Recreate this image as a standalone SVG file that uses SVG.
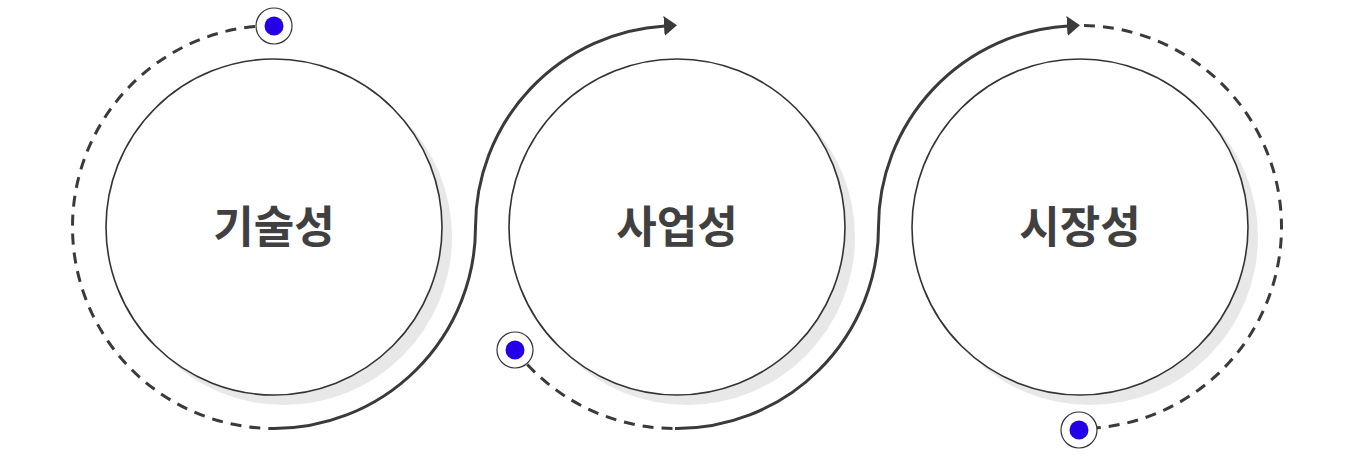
<svg xmlns="http://www.w3.org/2000/svg" width="1354" height="456" viewBox="0 0 1354 456">
<style>
.shadow{fill:#e8e8e8;stroke:none}
.main{fill:#ffffff;stroke:#333333;stroke-width:1.6}
.label{font-family:"Noto Sans CJK KR","Noto Sans",sans-serif;font-weight:700;font-size:44px;fill:#404040;text-anchor:middle}
.solid{fill:none;stroke:#3a3a3a;stroke-width:3}
.dash{fill:none;stroke:#3a3a3a;stroke-width:3;stroke-dasharray:11 8}
.ring{fill:#ffffff;stroke:#333333;stroke-width:1.2}
.dot{fill:#2400e8}
</style>
<defs>
<marker id="arrow" markerUnits="userSpaceOnUse" markerWidth="14" markerHeight="20" refX="1" refY="10" orient="auto">
<polygon points="0,0 13,10 0,20" fill="#3a3a3a"/>
</marker>
</defs>
<g id="node1">
<circle class="shadow" cx="284" cy="237" r="168"/>
<circle class="main" cx="274" cy="227" r="168"/>
<text class="label" x="274" y="243">기술성</text>
</g>
<g id="node2">
<circle class="shadow" cx="687" cy="237" r="168"/>
<circle class="main" cx="677" cy="227" r="168"/>
<text class="label" x="677" y="243">사업성</text>
</g>
<g id="node3">
<circle class="shadow" cx="1090" cy="237" r="168"/>
<circle class="main" cx="1080" cy="227" r="168"/>
<text class="label" x="1080" y="243">시장성</text>
</g>
<g id="connectors">
<path class="dash" d="M274 25.5 A201.5 201.5 0 0 0 72.5 227 A201.5 201.5 0 0 0 274 428.5"/>
<path class="solid" d="M272 428.5 A201.5 201.5 0 0 0 475.5 227 A201.5 201.5 0 0 1 665 25.9" marker-end="url(#arrow)"/>
<path class="dash" d="M515 350 A201.5 201.5 0 0 0 677 428.5"/>
<path class="solid" d="M675 428.5 A201.5 201.5 0 0 0 878.5 227 A201.5 201.5 0 0 1 1068 25.9" marker-end="url(#arrow)"/>
<path class="dash" d="M1084 25.5 A201.5 201.5 0 0 1 1281.5 227 A201.5 201.5 0 0 1 1080 428.5"/>
</g>
<g id="dot1">
<circle class="ring" cx="274" cy="26" r="18"/>
<circle class="dot" cx="274" cy="26" r="9.5"/>
</g>
<g id="dot2">
<circle class="ring" cx="515" cy="350" r="18"/>
<circle class="dot" cx="515" cy="350" r="9.5"/>
</g>
<g id="dot3">
<circle class="ring" cx="1079" cy="430" r="18"/>
<circle class="dot" cx="1079" cy="430" r="9.5"/>
</g>
</svg>
